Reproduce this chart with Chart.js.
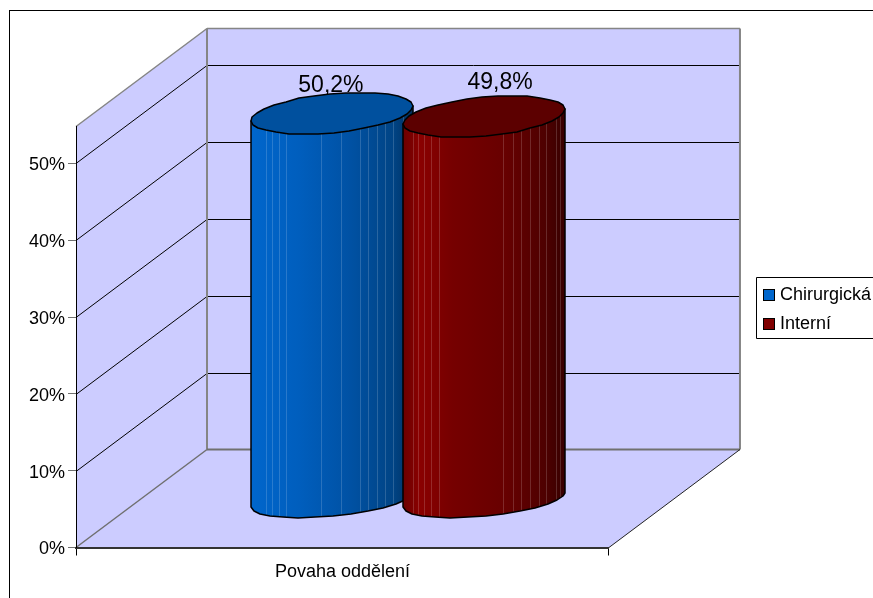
<!DOCTYPE html>
<html>
<head>
<meta charset="utf-8">
<title>Povaha oddělení</title>
<script src="https://cdn.jsdelivr.net/npm/chart.js@4/dist/chart.umd.js"></script>
<style>
    html, body { margin: 0; padding: 0; background: #fff; overflow: hidden; }
    canvas { display: block; }
</style>
</head>
<body>
<canvas id="myChart" width="873" height="598"></canvas>
<script>
const categories = ['Povaha oddělení'];
const seriesNames = ['Chirurgická', 'Interní'];
const chirurgicka = [50.2];
const interni = [49.8];
const yTickValues = [0, 10, 20, 30, 40, 50];
const yAxisMax = 54.8;

const FONT = '"Liberation Sans", Arial, sans-serif';
const WALL = '#CCCCFF';
const EDGE = '#858585';
const FLOOR_EDGE = '#707070';

// how far the back wall sits from the front plane
const DEPTH_X = 131;
const DEPTH_Y = -98;

// per series look of the cylinders, seams are vertical facet joints out of a width of 161
const looks = [
    {
        top: '#00509E',
        stops: [[0, '#0066CC'], [0.3, '#005EBD'], [0.6, '#0052A5'], [0.88, '#004485'], [1, '#00305F']],
        seams: [15, 21, 28, 35, 70, 90, 109, 117, 126, 134, 142, 152],
        labelDx: -1, labelDy: -1
    },
    {
        top: '#5C0000',
        stops: [[0, '#6C0000'], [0.1, '#8A0000'], [0.3, '#760000'], [0.62, '#680000'], [0.88, '#4E0000'], [1, '#380000']],
        seams: [10, 15, 21, 28, 35, 99, 109, 117, 126, 135, 142, 152, 156],
        labelDx: 16, labelDy: -7
    }
];

const TILT = -5.3 * Math.PI / 180;

function ellipsePoint(cx, cy, a, b, t) {
    const x = cx + a * Math.cos(t) * Math.cos(TILT) - b * Math.sin(t) * Math.sin(TILT);
    const y = cy + a * Math.cos(t) * Math.sin(TILT) + b * Math.sin(t) * Math.cos(TILT);
    return [Math.round(x), Math.round(y)];
}

function line(ctx, x1, y1, x2, y2, color, width) {
    ctx.strokeStyle = color;
    ctx.lineWidth = width;
    ctx.beginPath();
    ctx.moveTo(x1, y1);
    ctx.lineTo(x2, y2);
    ctx.stroke();
}

// the plugin paints the cylinders, so the flat bars stay out of it
Chart.BarElement.prototype.draw = function() {};

function drawCylinder(ctx, bar, look) {
    const a = bar.width * 0.532;
    const cx = bar.x + DEPTH_X / 2;
    const topY = bar.y + DEPTH_Y / 2 + 0.6;
    const botY = bar.base + DEPTH_Y / 2 + 2;
    const bTop = a * 0.24;
    const bBot = a * 0.2;
    const left = cx - a * Math.cos(TILT);
    const w = 2 * a * Math.cos(TILT);

    const body = new Path2D();
    const tl = ellipsePoint(cx, topY, a, bTop, Math.PI);
    body.moveTo(tl[0], tl[1]);
    const n = 14;
    for (let i = 0; i <= n; i++) {
        const p = ellipsePoint(cx, botY, a, bBot, Math.PI - Math.PI * i / n);
        body.lineTo(p[0], p[1]);
    }
    const tr = ellipsePoint(cx, topY, a, bTop, 0);
    body.lineTo(tr[0], tr[1]);
    body.closePath();

    const grad = ctx.createLinearGradient(left, 0, left + w, 0);
    look.stops.forEach(s => grad.addColorStop(s[0], s[1]));
    ctx.fillStyle = grad;
    ctx.fill(body);

    ctx.save();
    ctx.clip(body);
    look.seams.forEach(s => {
        const x = Math.round(left + s / 161 * w) + 0.5;
        line(ctx, x, topY - 30, x, botY + 30, 'rgba(255,255,255,0.16)', 1);
    });
    ctx.restore();

    ctx.lineJoin = 'round';
    ctx.strokeStyle = '#000';
    ctx.lineWidth = 1.5;
    ctx.stroke(body);

    ctx.beginPath();
    const m = 32;
    for (let i = 0; i < m; i++) {
        const p = ellipsePoint(cx, topY, a, bTop, 2 * Math.PI * i / m);
        if (i === 0) ctx.moveTo(p[0], p[1]); else ctx.lineTo(p[0], p[1]);
    }
    ctx.closePath();
    ctx.fillStyle = look.top;
    ctx.fill();
    ctx.stroke();
}

const scene3d = {
    id: 'scene3d',
    afterLayout(chart) {
        // tick labels sit a little below their tick marks
        const s = chart.scales.y;
        if (!s.loweredLabels) {
            const drawLabels = s.drawLabels;
            s.drawLabels = function(area) {
                this.ctx.save();
                this.ctx.translate(0, 2);
                drawLabels.call(this, area);
                this.ctx.restore();
            };
            s.loweredLabels = true;
        }
    },
    beforeDraw(chart) {
        const ctx = chart.ctx;
        const y = chart.scales.y;
        const area = chart.chartArea;
        const l = area.left, r = area.right, t = area.top, b = area.bottom;

        ctx.save();
        ctx.fillStyle = '#fff';
        ctx.fillRect(0, 0, chart.width, chart.height);

        // outer frame runs off the right and bottom of the page
        line(ctx, 9.5, 10, 9.5, chart.height, '#000', 1);
        line(ctx, 9, 10.5, chart.width, 10.5, '#000', 1);

        // walls and floor
        ctx.fillStyle = WALL;
        ctx.beginPath();
        ctx.moveTo(l, t);
        ctx.lineTo(l + DEPTH_X, t + DEPTH_Y);
        ctx.lineTo(r + DEPTH_X, t + DEPTH_Y);
        ctx.lineTo(r + DEPTH_X, b + DEPTH_Y);
        ctx.lineTo(r, b);
        ctx.lineTo(l, b);
        ctx.closePath();
        ctx.fill();

        // grid on the side and back wall
        yTickValues.filter(v => v > 0).forEach(v => {
            const py = Math.round(y.getPixelForValue(v)) + 0.5;
            line(ctx, l, py, l + DEPTH_X, py + DEPTH_Y, '#000', 1);
            line(ctx, l + DEPTH_X, py + DEPTH_Y, r + DEPTH_X, py + DEPTH_Y, '#000', 1);
        });

        // wall edges
        line(ctx, l, t, l + DEPTH_X, t + DEPTH_Y, EDGE, 1.5);
        line(ctx, l + DEPTH_X, t + DEPTH_Y, r + DEPTH_X, t + DEPTH_Y, EDGE, 1.5);
        line(ctx, l + DEPTH_X, t + DEPTH_Y, l + DEPTH_X, b + DEPTH_Y, EDGE, 2);
        line(ctx, r + DEPTH_X, t + DEPTH_Y, r + DEPTH_X, b + DEPTH_Y, EDGE, 2);
        line(ctx, l, b, l + DEPTH_X, b + DEPTH_Y, FLOOR_EDGE, 1.5);
        line(ctx, l + DEPTH_X, b + DEPTH_Y, r + DEPTH_X, b + DEPTH_Y, FLOOR_EDGE, 2);
        line(ctx, r, b, r + DEPTH_X, b + DEPTH_Y, '#222', 1);
        ctx.restore();

        // legend sits further right than the layout puts it
        const legend = chart.legend;
        legend.left = 752;
        legend.right = legend.left + legend.width;
        legend.top = 275.5;
        legend.bottom = legend.top + legend.height;
    },
    afterDatasetsDraw(chart) {
        const ctx = chart.ctx;
        ctx.save();
        // left cylinder first, the right one overlaps it
        chart.data.datasets.forEach((ds, i) => {
            drawCylinder(ctx, chart.getDatasetMeta(i).data[0], looks[i]);
        });
        ctx.fillStyle = '#000';
        ctx.font = '23px ' + FONT;
        ctx.textAlign = 'center';
        ctx.textBaseline = 'alphabetic';
        chart.data.datasets.forEach((ds, i) => {
            const bar = chart.getDatasetMeta(i).data[0];
            const text = String(ds.data[0]).replace('.', ',') + '%';
            ctx.fillText(text, bar.x + DEPTH_X / 2 + looks[i].labelDx, bar.y + DEPTH_Y / 2 - 20 + looks[i].labelDy);
        });
        ctx.restore();
    },
    afterDraw(chart) {
        const ctx = chart.ctx;
        const legend = chart.legend;
        const pad = legend.options.labels.padding;
        ctx.save();
        ctx.strokeStyle = '#000';
        ctx.lineWidth = 1;
        ctx.beginPath();
        ctx.moveTo(chart.width, 277.5);
        ctx.lineTo(756.5, 277.5);
        ctx.lineTo(756.5, 338.5);
        ctx.lineTo(chart.width, 338.5);
        ctx.stroke();
        // full square swatches, the label gap is set by the narrower legend box
        chart.data.datasets.forEach((ds, i) => {
            const sx = legend.left + pad;
            const sy = legend.top + pad + i * (18 + pad) + 2;
            ctx.fillStyle = ds.backgroundColor;
            ctx.fillRect(sx + 0.5, Math.round(sy) + 0.5, 11, 11);
            ctx.strokeRect(sx + 0.5, Math.round(sy) + 0.5, 11, 11);
        });
        ctx.restore();
    }
};

new Chart('myChart', {
    type: 'bar',
    data: {
        labels: categories,
        datasets: [
            { label: seriesNames[0], data: chirurgicka, backgroundColor: '#0066CC', borderWidth: 0 },
            { label: seriesNames[1], data: interni, backgroundColor: '#800000', borderWidth: 0 }
        ]
    },
    options: {
        responsive: false,
        animation: false,
        events: [],
        categoryPercentage: 0.571,
        barPercentage: 1,
        layout: { padding: { left: 0, top: 126.5, right: 135, bottom: 0 } },
        plugins: {
            tooltip: { enabled: false },
            title: { display: false },
            legend: {
                position: 'right',
                align: 'start',
                labels: {
                    boxWidth: 8,
                    boxHeight: 11,
                    padding: 11,
                    color: '#000',
                    font: { family: FONT, size: 18 }
                }
            }
        },
        scales: {
            x: {
                afterFit(scale) { scale.height = 50.5; },
                grid: { drawOnChartArea: false, tickLength: 8, tickColor: '#000', offset: true },
                border: { color: '#333', width: 2 },
                ticks: { color: '#000', padding: 6, maxRotation: 0, font: { family: FONT, size: 18 } }
            },
            y: {
                min: 0,
                max: yAxisMax,
                afterFit(scale) { scale.width = 76; },
                afterBuildTicks(scale) { scale.ticks = yTickValues.map(v => ({ value: v })); },
                grid: { drawOnChartArea: false, tickLength: 8, tickColor: '#707070' },
                border: { color: '#000', width: 1 },
                ticks: {
                    color: '#000',
                    padding: 3,
                    font: { family: FONT, size: 18 },
                    callback: v => v + '%'
                }
            }
        }
    },
    plugins: [scene3d]
});
</script>
</body>
</html>
